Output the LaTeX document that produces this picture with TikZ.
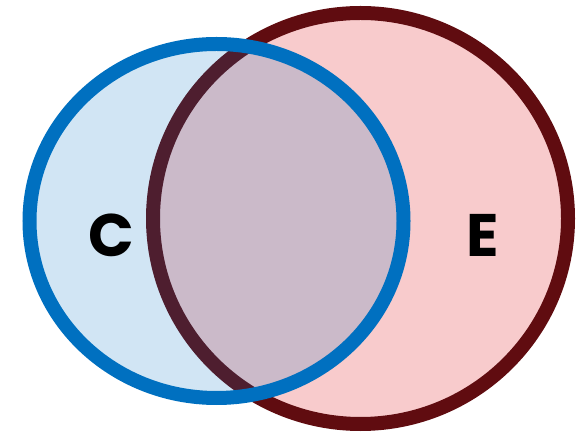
\documentclass[tikz,border=0pt]{standalone}
\usepackage{fontspec}
\setsansfont{Poppins}
\usetikzlibrary{positioning}
\definecolor{cblue}{HTML}{0070C0}
\definecolor{ered}{HTML}{600C10}
\definecolor{epink}{HTML}{F8CBCC}
\begin{document}
\begin{tikzpicture}[x=1pt,y=1pt,
			setE/.style={draw=ered,line width=14pt,fill=epink},
			setC/.style={draw=cblue,line width=14pt,fill=cblue,fill opacity=0.18,draw opacity=1},
			lab/.style={font=\fontsize{60}{60}\selectfont\sffamily\bfseries,text=black,inner sep=0pt}
			]
			\useasboundingbox (0,0) rectangle (580,433);
			\draw[setE] (360.5,214.5) ellipse [x radius=207.5pt, y radius=205.5pt];
			\draw[setC] (216.5,212) ellipse [x radius=187pt, y radius=177pt];
			\node[lab] (labC) at (111,197.5) {C};
			\node[lab] (labE) at (483,197.5) {E};
		\end{tikzpicture}
\end{document}
